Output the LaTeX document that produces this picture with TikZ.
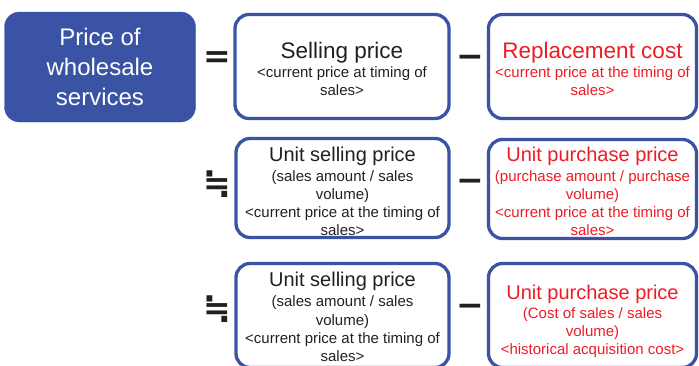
\documentclass[tikz,border=0pt]{standalone}
\usepackage{fontspec}
\setmainfont{Liberation Sans}
\newfontfamily\opfont{DejaVu Sans}
\definecolor{boxblue}{HTML}{3A53A4}
\definecolor{ink}{HTML}{231F20}
\definecolor{redink}{HTML}{ED1C24}

\begin{document}
\begin{tikzpicture}[x=1pt,y=-1pt,
  termbox/.style={draw=boxblue, line width=3.3pt, rounded corners=14pt, inner sep=0pt},
  termtext/.style={align=center, inner sep=0pt, text=ink,
    font=\fontsize{15}{18}\selectfont},
  redtext/.style={termtext, text=redink},
  headbox/.style={fill=boxblue, draw=boxblue, rounded corners=15pt,
    align=center, inner sep=0pt, text=white,
    font=\fontsize{24}{30}\selectfont},
  opsign/.style={inner sep=0pt, text=ink, font=\opfont\bfseries\fontsize{33}{33}\selectfont},
]
\clip (0,0) rectangle (699,365);

% left-hand side
\node[headbox, minimum width=191pt, minimum height=110pt] (price) at (100,67)
  {Price of\\wholesale\\services};

% term frames
\node[termbox, minimum width=214pt, minimum height=104pt] (sell) at (342,66.5) {};
\node[termbox, minimum width=208pt, minimum height=104pt] (repl) at (592.5,66.5) {};
\node[termbox, minimum width=213pt, minimum height=99pt] (usell) at (342.5,188) {};
\node[termbox, minimum width=208pt, minimum height=99pt] (upur) at (592.5,189) {};
\node[termbox, minimum width=213pt, minimum height=104pt] (usell2) at (342.5,315.5) {};
\node[termbox, minimum width=208pt, minimum height=104pt] (hist) at (592.5,315.5) {};

% first row
\node[termtext, yshift=-2.5pt] (sellT) at (sell.center)
  {{\fontsize{22.5}{27}\selectfont Selling price}\\[1pt]
   {<}current price at timing of\\sales{>}};
\node[redtext, yshift=-2.5pt] (replT) at (repl.center)
  {{\fontsize{22.5}{27}\selectfont Replacement cost}\\[1pt]
   {<}current price at the timing of\\sales{>}};

% second row
\node[termtext, yshift=-3pt] (usellT) at (342.5,188)
  {{\fontsize{20}{24}\selectfont Unit selling price}\\[2pt]
   (sales amount / sales\\volume)\\{<}current price at the timing of\\sales{>}};
\node[redtext, yshift=-3pt] (upurT) at (592.5,188)
  {{\fontsize{20}{24}\selectfont Unit purchase price}\\[2pt]
   (purchase amount / purchase\\volume)\\{<}current price at the timing of\\sales{>}};

% third row
\node[termtext, yshift=-1.5pt] (usell2T) at (usell2.center)
  {{\fontsize{20}{24}\selectfont Unit selling price}\\[2pt]
   (sales amount / sales\\[0.5pt]volume)\\[0.5pt]{<}current price at the timing of\\sales{>}};
\node[redtext, yshift=-6pt] (histT) at (hist.center)
  {{\fontsize{20}{24}\selectfont Unit purchase price}\\[1pt]
   (Cost of sales / sales\\volume)\\{<}historical acquisition cost{>}};

% operators between the terms
\node[opsign] (eq) at (217,60) {=};
\node[opsign] (m1) at (470,61) {−};
\node[opsign] (ap1) at (217,184.5) {≒};
\node[opsign] (m2) at (470,185) {−};
\node[opsign] (ap2) at (217,309.5) {≒};
\node[opsign] (m3) at (470,310) {−};
\end{tikzpicture}
\end{document}
